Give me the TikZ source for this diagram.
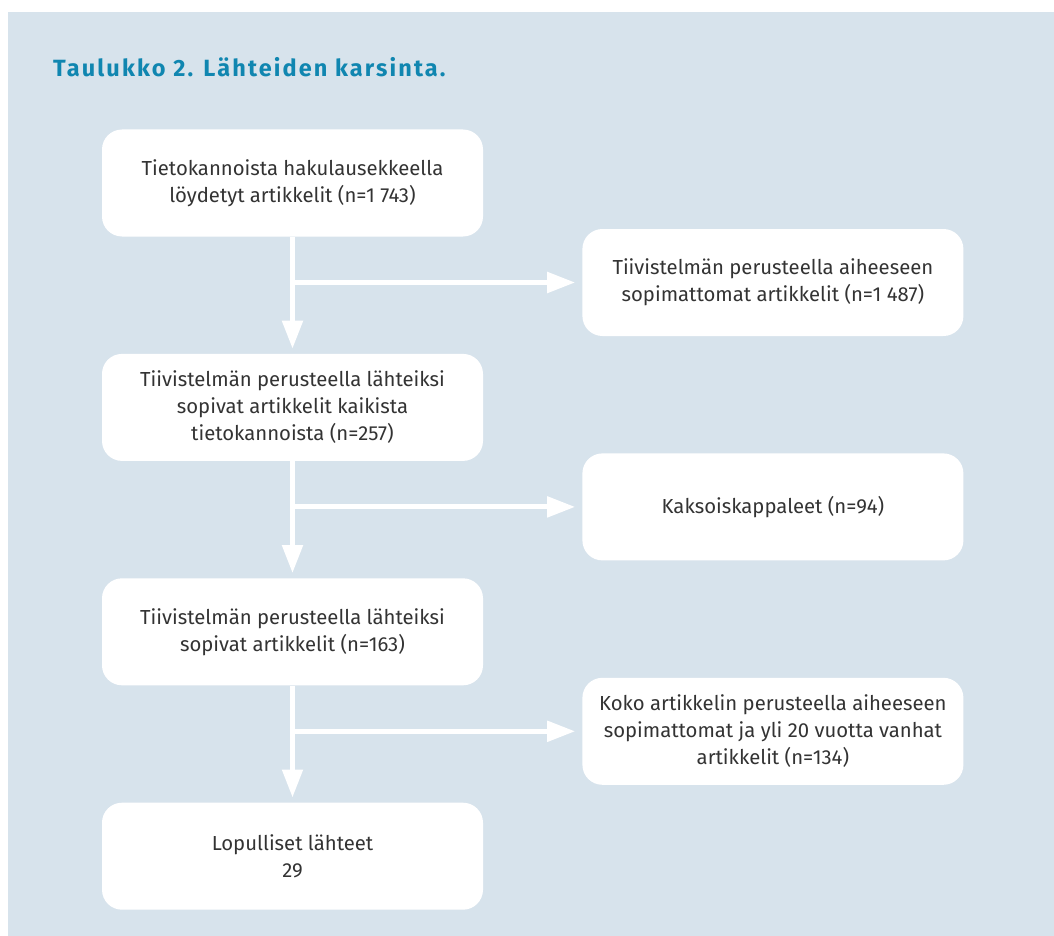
\documentclass[tikz,border=0pt]{standalone}
\usepackage{fontspec}
\setmainfont{Fira Sans}
\usetikzlibrary{positioning, arrows.meta}

\definecolor{bgblue}{RGB}{215,227,236}
\definecolor{headblue}{RGB}{16,134,176}
\definecolor{textgray}{RGB}{51,51,51}

\begin{document}
\begin{tikzpicture}[x=1pt, y=-1pt, node distance=117pt, auto]
	\tikzstyle{box} = [fill=white, rounded corners=20pt, align=center, minimum width=381pt, minimum height=107pt, text=textgray, font=\fontsize{20.3}{27}\selectfont]
	\tikzstyle{flow} = [draw=white, line width=5pt, -{Triangle[width=20pt,length=28pt]}]
	
	\path[use as bounding box] (0,0) rectangle (1054,936);
	\fill[bgblue] (8,12) rectangle (1054,936);
	
	\node[anchor=base west, text=headblue, font=\fontsize{23.5}{28}\selectfont\bfseries\addfontfeatures{LetterSpace=9}, inner sep=0pt] (title) at (53,77) {Taulukko 2. Lähteiden karsinta.};
	
	\node[box] (haku) at (292.5,183) {Tietokannoista hakulausekkeella\\löydetyt artikkelit (n=1 743)};
	\node[box, below=of haku] (tiivis) {Tiivistelmän perusteella lähteiksi\\sopivat artikkelit kaikista\\tietokannoista (n=257)};
	\node[box, below=of tiivis] (sopivat) {Tiivistelmän perusteella lähteiksi\\sopivat artikkelit (n=163)};
	\node[box, below=of sopivat] (lopulliset) {Lopulliset lähteet\\29};
	
	\node[box, right=99pt of haku, yshift=-99.5pt] (hylatty1) {Tiivistelmän perusteella aiheeseen\\sopimattomat artikkelit (n=1 487)};
	\node[box, right=99pt of tiivis, yshift=-99.5pt] (kaksois) {Kaksoiskappaleet (n=94)};
	\node[box, right=99pt of sopivat, yshift=-99.5pt] (hylatty2) {Koko artikkelin perusteella aiheeseen\\sopimattomat ja yli 20 vuotta vanhat\\artikkelit (n=134)};
	
	\draw[flow, shorten >=5pt] (haku) -- (tiivis);
	\draw[flow, shorten >=5pt] (tiivis) -- (sopivat);
	\draw[flow, shorten >=5pt] (sopivat) -- (lopulliset);
	
	\draw[flow, shorten >=7pt] (haku.south |- hylatty1) -- (hylatty1);
	\draw[flow, shorten >=7pt] (tiivis.south |- kaksois) -- (kaksois);
	\draw[flow, shorten >=7pt] (sopivat.south |- hylatty2) -- (hylatty2);
\end{tikzpicture}
\end{document}
